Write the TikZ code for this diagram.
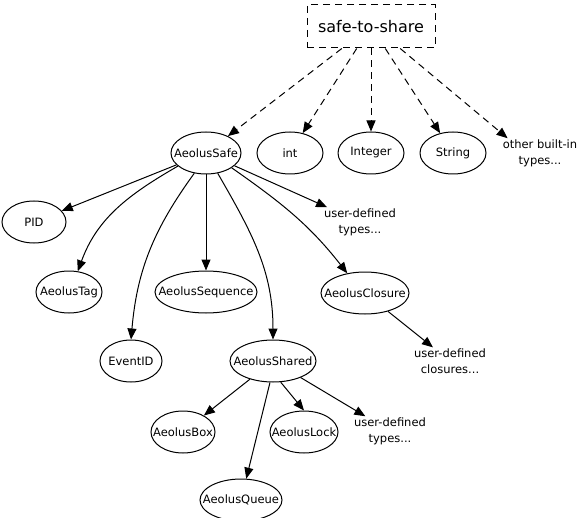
\documentclass[tikz,border=0pt]{standalone}
\usepackage{fontspec}
\setmainfont{DejaVu Sans}
\usetikzlibrary{shapes.geometric,arrows.meta}
\begin{document}
\begin{tikzpicture}[x=1pt,y=-1pt,
  every node/.style={font=\fontsize{11.5}{16}\selectfont},
  el/.style={draw,ellipse,line width=1pt,inner sep=0pt,minimum height=42pt,label={[inner sep=0pt]center:#1}},
  lbl/.style={align=center,inner sep=1pt},
  arr/.style={line width=1pt,-{Triangle[length=11pt,width=9pt]}},
  darr/.style={arr,dash pattern=on 7pt off 5pt}]
\useasboundingbox (0,0) rectangle (577,518);
\node[draw,dash pattern=on 7pt off 5pt,line width=1pt,minimum width=128pt,minimum height=43pt,inner sep=0pt,font=\fontsize{16}{18}\selectfont] (sts) at (371,26.5) {safe-to-share};
\node[el=AeolusSafe,minimum width=70pt] (safe) at (206,153) {};
\node[el=int,minimum width=66pt] (int) at (290,153) {};
\node[el=Integer,minimum width=66pt] (integer) at (371,153) {};
\node[el=String,minimum width=66pt] (string) at (453,153) {};
\node[lbl] (obt) at (540,153) {other built-in\\types...};
\node[el=PID,minimum width=64pt] (pid) at (34,222) {};
\node[lbl] (udt1) at (360,222) {user-defined\\types...};
\node[el=AeolusTag,minimum width=66pt] (tag) at (69,292) {};
\node[el=AeolusSequence,minimum width=102pt] (seq) at (206,292) {};
\node[el=AeolusClosure,minimum width=88pt] (closure) at (365,293) {};
\node[el=EventID,minimum width=62pt] (event) at (131,361) {};
\node[el=AeolusShared,minimum width=86pt] (shared) at (273,361) {};
\node[lbl] (udc) at (450,361) {user-defined\\closures...};
\node[el=AeolusBox,minimum width=64pt] (box) at (183,432) {};
\node[el=AeolusLock,minimum width=68pt] (lock) at (304,432) {};
\node[lbl] (udt2) at (390,431) {user-defined\\types...};
\node[el=AeolusQueue,minimum width=82pt] (queue) at (241,500) {};
% dashed edges
\draw[darr] (sts.217) -- (safe);
\draw[darr] (sts.237) -- (int);
\draw[darr] (sts.270) -- (integer);
\draw[darr] (sts.303) -- (string);
\draw[darr] (sts.323) -- ([xshift=6pt]obt.north west);
% solid edges
\draw[arr] (safe) -- (pid);
\draw[arr] (safe.205) to[out=210,in=70] (tag.67);
\draw[arr] (safe.240) to[out=234,in=85] (event.north);
\draw[arr] (safe) -- (seq);
\draw[arr] (safe.300) to[out=300,in=90] (shared.north);
\draw[arr] (safe.330) to[out=325,in=128] (closure.132);
\draw[arr] (safe) -- (udt1);
\draw[arr] (closure) -- (udc);
\draw[arr] (shared) -- (box);
\draw[arr] (shared.262) -- (queue);
\draw[arr] (shared.290) -- (lock.north);
\draw[arr] (shared) -- (udt2);
\end{tikzpicture}
\end{document}
